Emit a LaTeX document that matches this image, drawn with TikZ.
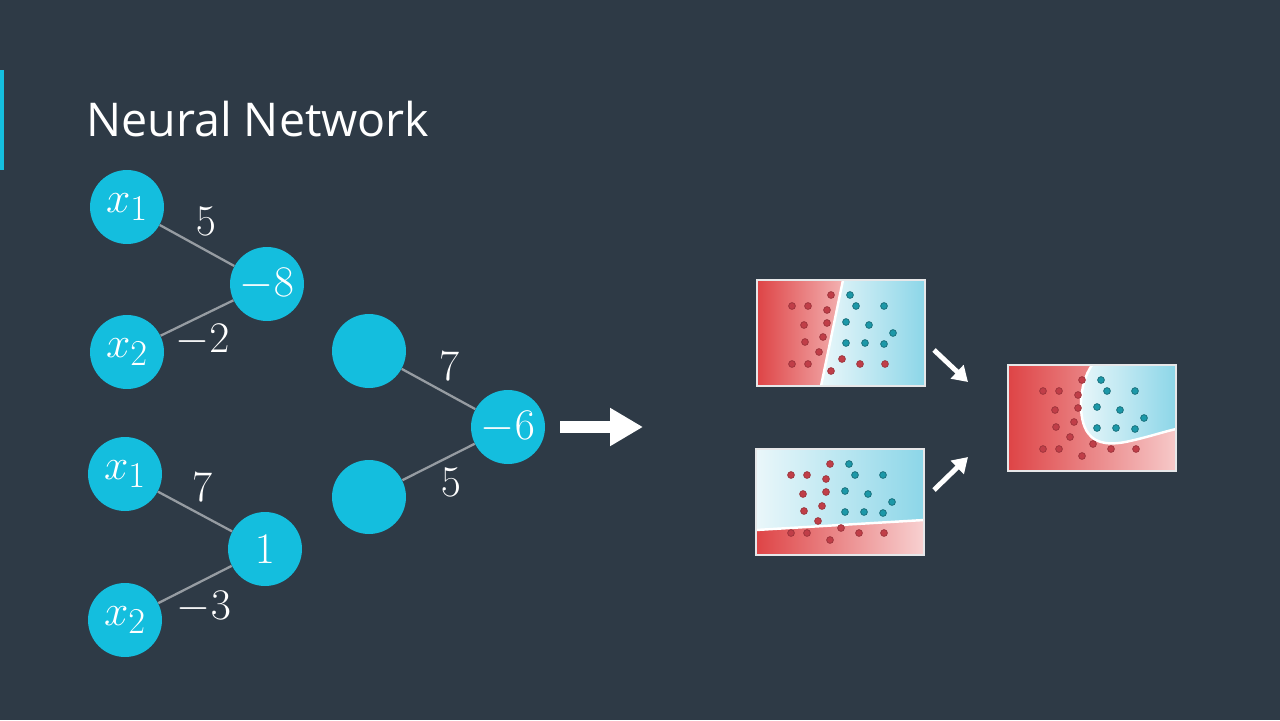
\documentclass[tikz,border=0pt]{standalone}
\usepackage[no-math]{fontspec}
\usepackage{amsmath}
\usetikzlibrary{
  arrows.meta,
  positioning
}
\newfontfamily\titlefont{Open Sans}
\definecolor{slate}{RGB}{46,58,70}
\definecolor{neuroncyan}{RGB}{20,190,222}
\definecolor{wiregray}{RGB}{150,156,162}
\definecolor{redzone}{RGB}{222,68,70}
\definecolor{pinkzone}{RGB}{243,178,178}
\definecolor{bluezone}{RGB}{140,214,232}
\definecolor{icezone}{RGB}{234,247,250}
\definecolor{reddot}{RGB}{192,62,72}
\definecolor{bluedot}{RGB}{28,152,168}
\newcommand{\scatterdots}{%
  \foreach \px/\py in {74/15,35/26,51/26,70/30,47/45,70/43,48/62,66/57,62/72,35/84,51/84,74/91,85/79,103/84,128/84}
    \filldraw[fill=reddot, draw=reddot!80!black, line width=0.4pt] (\px,\py) circle (3.4);
  \foreach \px/\py in {93/15,99/26,127/26,89/42,112/45,136/53,89/63,108/63,127/64}
    \filldraw[fill=bluedot, draw=bluedot!70!black, line width=0.4pt] (\px,\py) circle (3.4);
}

\begin{document}
\begin{tikzpicture}[
  x=0.02cm, y=-0.02cm,
  font=\fontsize{29}{33}\selectfont,
  neuron/.style={circle, fill=neuroncyan, minimum size=1.48cm, inner sep=0pt, text=white},
  wire/.style={draw=wiregray, line width=1.3pt},
  weight/.style={text=white, inner sep=3pt},
  bigarrow/.style={white, line width=6.8pt, -{Triangle[length=0.66cm, width=0.72cm]}},
  smallarrow/.style={white, line width=2.8pt, -{Triangle[length=0.3cm, width=0.36cm]}},
  frame/.style={draw=white!88!slate, line width=1.2pt}
]
\useasboundingbox (0,0) rectangle (1280,720);
\fill[slate] (0,0) rectangle (1280,720);
\fill[neuroncyan] (0,70) rectangle (4,170);
\node[anchor=west, text=white, inner sep=0pt, font=\titlefont\fontsize{26.5}{30}\selectfont] (title) at (86,119) {Neural Network};

% first perceptron
\node[neuron] (xa1) at (127,207) {$x_1$};
\node[neuron] (xa2) at (127,352) {$x_2$};
\node[neuron] (na) at (267,284) {$-8$};
\draw[wire] (xa1) -- node[weight, above, xshift=5, yshift=2pt] {$5$} (na);
\draw[wire] (xa2) -- node[weight, below, xshift=3] {$-2$} (na);

% second perceptron
\node[neuron] (xb1) at (125,474) {$x_1$};
\node[neuron] (xb2) at (125,620) {$x_2$};
\node[neuron] (nb) at (265,549) {$1$};
\draw[wire] (xb1) -- node[weight, above, xshift=4, yshift=2pt] {$7$} (nb);
\draw[wire] (xb2) -- node[weight, below, xshift=5] {$-3$} (nb);

% combining perceptron
\node[neuron] (h1) at (369,351) {};
\node[neuron] (h2) at (369,497) {};
\node[neuron] (out) at (508,427) {$-6$};
\draw[wire] (h1) -- node[weight, above, xshift=6, yshift=1pt] {$7$} (out);
\draw[wire] (h2) -- node[weight, below, xshift=7] {$5$} (out);

\coordinate (arrs) at (560,427);
\coordinate (arre) at (643,427);
\draw[bigarrow] (arrs) -- (arre);

% linear model one
\begin{scope}[shift={(757,280)}]
  \fill[left color=redzone, right color=pinkzone] (0,0) -- (86,0) -- (64,106) -- (0,106) -- cycle;
  \fill[left color=icezone, right color=bluezone] (86,0) -- (168,0) -- (168,106) -- (64,106) -- cycle;
  \draw[white, line width=1.4pt] (86,0) -- (64,106);
  \scatterdots
  \draw[frame] (0,0) rectangle (168,106);
\end{scope}

% linear model two
\begin{scope}[shift={(756,449)}]
  \fill[left color=icezone, right color=bluezone] (0,0) -- (168,0) -- (168,71) -- (0,81) -- cycle;
  \fill[left color=redzone, right color=pinkzone!60!white] (0,81) -- (168,71) -- (168,106) -- (0,106) -- cycle;
  \draw[white, line width=1.4pt] (0,81) -- (168,71);
  \scatterdots
  \draw[frame] (0,0) rectangle (168,106);
\end{scope}

% combined model
\begin{scope}[shift={(1008,365)}]
  \fill[left color=redzone, right color=pinkzone!70!white] (0,0) rectangle (168,106);
  \fill[left color=icezone, right color=bluezone] (84,0) .. controls (70,20) and (70,55) .. (80,68)
    .. controls (88,80) and (105,80) .. (122,76) .. controls (140,72) and (155,67) .. (168,64) -- (168,0) -- cycle;
  \draw[white, line width=1.4pt] (84,0) .. controls (70,20) and (70,55) .. (80,68)
    .. controls (88,80) and (105,80) .. (122,76) .. controls (140,72) and (155,67) .. (168,64);
  \scatterdots
  \draw[frame] (0,0) rectangle (168,106);
\end{scope}

\coordinate (sa1) at (934,350);
\coordinate (sa2) at (968,382);
\coordinate (sb1) at (934,490);
\coordinate (sb2) at (968,457);
\draw[smallarrow] (sa1) -- (sa2);
\draw[smallarrow] (sb1) -- (sb2);
\end{tikzpicture}
\end{document}
